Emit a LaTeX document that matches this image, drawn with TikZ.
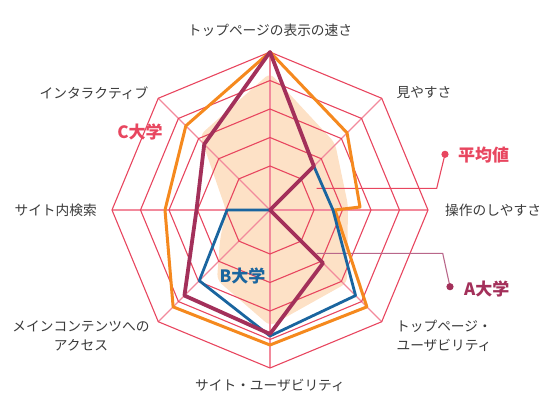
\documentclass[tikz,border=0pt]{standalone}
\usepackage{fontspec}
\setmainfont{Noto Sans CJK JP}

\definecolor{gridred}{HTML}{E8465F}
\definecolor{spokepink}{HTML}{F28A9C}
\definecolor{peach}{HTML}{FDE1C6}
\definecolor{orangeC}{HTML}{F5891E}
\definecolor{maroonA}{HTML}{A3305A}
\definecolor{leaderA}{HTML}{B9678A}
\definecolor{blueB}{HTML}{1A659F}
\definecolor{labelgray}{HTML}{3A3A3A}

\begin{document}
\begin{tikzpicture}[x=1pt,y=1pt,
  ring/.style={draw=gridred, line width=1.1pt},
  spoke/.style={draw=spokepink, line width=1.1pt},
  series/.style={line width=#1, line join=round},
  axislabel/.style={text=labelgray, font=\fontsize{13.7}{19}\selectfont, align=center, inner sep=0pt},
  unilabel/.style={font=\fontsize{17}{20}\selectfont\bfseries, inner sep=0pt}]

\useasboundingbox (-270,-184) rectangle (274,210);

% average (filled area)
\path (0,137) coordinate(M1);
\path (65,67) coordinate(M2);
\path (78,5) coordinate(M3);
\path (77,-73) coordinate(M4);
\path (0,-116) coordinate(M5);
\path (-53,-70) coordinate(M6);
\path (-50,-30) coordinate(M7);
\path (-44,0) coordinate(M8);
\path (-70,75) coordinate(M9);

\fill [peach, rounded corners=6pt] (M1)--(M2)--(M3)--(M4)--(M5)--(M6)--(M7)--(M8)--(M9)--cycle;

% spokes
\draw [spoke] (90:158) -- (-90:158);
\draw [spoke] (45:158) -- (-135:158);
\draw [spoke] (0:158) -- (180:158);
\draw [spoke] (-45:158) -- (135:158);

% rings
\draw [ring] (90:158)--(45:158)--(0:158)--(-45:158)--(-90:158)--(-135:158)--(180:158)--(135:158)--cycle;
\draw [ring] (90:129.5)--(45:129.5)--(0:129.5)--(-45:129.5)--(-90:129.5)--(-135:129.5)--(180:129.5)--(135:129.5)--cycle;
\draw [ring] (90:101)--(45:101)--(0:101)--(-45:101)--(-90:101)--(-135:101)--(180:101)--(135:101)--cycle;
\draw [ring] (90:72.5)--(45:72.5)--(0:72.5)--(-45:72.5)--(-90:72.5)--(-135:72.5)--(180:72.5)--(135:72.5)--cycle;
\draw [ring] (90:44)--(45:44)--(0:44)--(-45:44)--(-90:44)--(-135:44)--(180:44)--(135:44)--cycle;

% leaders
\path (46.7,21.7) coordinate(P1);
\path (166.7,21.7) coordinate(P2);
\path (175,55.7) coordinate(P3);
\path (46.7,-43.3) coordinate(Q1);
\path (172.7,-43.3) coordinate(Q2);
\path (180,-76.7) coordinate(Q3);

\draw [gridred, line width=1.1pt] (P1)--(P2)--(P3);
\draw [leaderA, line width=1.1pt] (Q1)--(Q2)--(Q3);
\fill [gridred] (P3) circle (3.6);
\fill [maroonA] (Q3) circle (3.6);

% C
\path (90:158) coordinate(C1);
\path (45:109) coordinate(C2);
\path (90,3) coordinate(C3);
\path (0:65) coordinate(C4);
\path (-45:137) coordinate(C5);
\path (-90:135) coordinate(C6);
\path (-135:137) coordinate(C7);
\path (180:105) coordinate(C8);
\path (135:119) coordinate(C9);

\draw [series=3pt, orangeC] (C1)--(C2)--(C3)--(C4)--(C5)--(C6)--(C7)--(C8)--(C9)--cycle;

% B
\path (0,0) coordinate(B1);
\path (45:62) coordinate(B2);
\path (0:63) coordinate(B3);
\path (-45:121) coordinate(B4);
\path (-90:126) coordinate(B5);
\path (-135:100) coordinate(B6);
\path (180:43) coordinate(B7);

\draw [series=2.8pt, blueB] (B1)--(B2)--(B3)--(B4)--(B5)--(B6)--(B7)--cycle;

% A
\path (90:158) coordinate(A1);
\path (45:62) coordinate(A2);
\path (0,0) coordinate(A3);
\path (-45:75) coordinate(A4);
\path (-90:124) coordinate(A5);
\path (-135:121) coordinate(A6);
\path (180:73.5) coordinate(A7);
\path (135:93) coordinate(A8);

\draw [series=3.8pt, maroonA] (A1)--(A2)--(A3)--(A4)--(A5)--(A6)--(A7)--(A8)--cycle;

% axis labels
\node [axislabel] (ax1) at (0,180) {トップページの表示の速さ};
\node [axislabel] (ax2) at (154,117) {見やすさ};
\node [axislabel, anchor=west] (ax3) at (175,0) {操作のしやすさ};
\node [axislabel] (ax4) at (174,-126) {トップページ・\\ユーザビリティ};
\node [axislabel] (ax5) at (0,-175) {サイト・ユーザビリティ};
\node [axislabel] (ax6) at (-189,-126) {メインコンテンツへの\\アクセス};
\node [axislabel, anchor=east] (ax7) at (-173,0) {サイト内検索};
\node [axislabel] (ax8) at (-176,117) {インタラクティブ};

% legend labels
\node [unilabel, text=gridred, anchor=west] (avg) at (188,55) {平均値};
\node [unilabel, text=maroonA, anchor=west] (uniA) at (194,-79) {A大学};
\node [unilabel, text=blueB] (uniB) at (-27.5,-66) {B大学};
\node [unilabel, text=gridred] (uniC) at (-130,78.3) {C大学};

\end{tikzpicture}
\end{document}
